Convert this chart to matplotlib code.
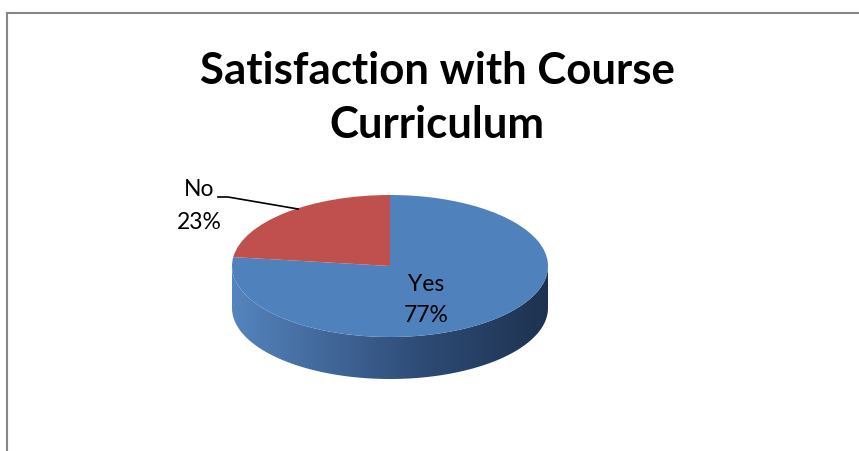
import numpy as np
import matplotlib.pyplot as plt
from matplotlib.patches import Polygon
from matplotlib.transforms import Affine2D
from matplotlib.lines import Line2D
from matplotlib.colors import LinearSegmentedColormap

# data
labels = ['Yes', 'No']
percents = [77, 23]
colors = ['#4F81BD', '#C0504D']
title = 'Satisfaction with Course\nCurriculum'

plt.rcParams['font.family'] = ['Lato', 'DejaVu Sans']

W, H = 859, 451
fig = plt.figure(figsize=(W / 100, H / 100), dpi=100)
ax = fig.add_axes([0, 0, 1, 1])

# pie geometry in pixel units (y up)
cx, cy = 390, H - 266
rx, ry = 158, 71
depth = 42
squash = ry / rx

wedges, _ = ax.pie(percents, colors=colors, startangle=90, counterclock=False,
                   radius=rx, center=(cx, cy),
                   wedgeprops=dict(linewidth=0))
flat = Affine2D().translate(-cx, -cy).scale(1, squash).translate(cx, cy) + ax.transData
for w in wedges:
    w.set_transform(flat)
    w.set_zorder(3)

# side of the 3D pie: visible front part (angles 180..360) of each wedge,
# filled with a left-to-right shading gradient
side_cmap = LinearSegmentedColormap.from_list(
    'side', [(0, '#5584BE'), (0.6, '#2E4B76'), (1, '#1E3250')])
grad = np.linspace(0, 1, 256).reshape(1, -1)

for w in wedges:
    lo, hi = sorted([w.theta1, w.theta2])
    for off in (-360, 0, 360):
        s, e = max(lo + off, 180), min(hi + off, 360)
        if e <= s:
            continue
        th = np.radians(np.linspace(s, e, 200))
        xs = cx + rx * np.cos(th)
        ys = cy + ry * np.sin(th)
        pts = np.vstack([np.column_stack([xs, ys]),
                         np.column_stack([xs[::-1], ys[::-1] - depth])])
        clip = Polygon(pts, closed=True, facecolor='none', edgecolor='none',
                       transform=ax.transData)
        ax.add_patch(clip)
        im = ax.imshow(grad, cmap=side_cmap, aspect='auto', interpolation='bilinear',
                       extent=(cx - rx, cx + rx, cy - ry - depth, cy), zorder=2)
        im.set_clip_path(clip)

ax.set_aspect('auto')
ax.set_xlim(0, W)
ax.set_ylim(0, H)
ax.axis('off')

# data labels
ax.text(426, H - 300, f'{labels[0]}\n{percents[0]}%', ha='center', va='center',
        fontsize=16.5, color='#000000', linespacing=1.6, zorder=5)
ax.text(199, H - 206, f'{labels[1]}\n{percents[1]}%', ha='center', va='center',
        fontsize=16.5, color='#000000', linespacing=1.75, zorder=5)
ax.plot([218, 228, 298], [H - 197, H - 197, H - 209], color='black', lw=1.2, zorder=5)

# title
ax.text(437, H - 98, title, ha='center', va='center', fontsize=31.5,
        fontweight='bold', linespacing=1.43, zorder=5)

# chart border (partially cropped)
fig.add_artist(Line2D([7 / W, 7 / W], [0, 1 - 13 / H], transform=fig.transFigure,
                      color='#868686', lw=1.5))
fig.add_artist(Line2D([7 / W, 1], [1 - 13 / H, 1 - 13 / H], transform=fig.transFigure,
                      color='#868686', lw=1.5))

fig.savefig('out.png', dpi=100)
